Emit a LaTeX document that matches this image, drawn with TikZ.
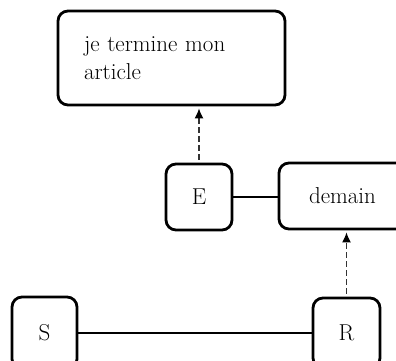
\documentclass[tikz,border=0pt]{standalone}
\usetikzlibrary{arrows.meta}
\begin{document}
\begin{tikzpicture}[x=1pt,y=-1pt,
  box/.style={draw=black,line width=2.8pt,rounded corners=10pt,fill=white,
    font=\fontsize{23}{28}\selectfont,inner sep=0pt},
  link/.style={line width=2pt},
  dasharrow/.style={line width=1.2pt,draw=black!80,dash pattern=on 6pt off 3pt,
    -{Latex[length=10pt,width=9pt,black]}, shorten >=2pt, shorten <=3pt}]
\useasboundingbox (0,0) rectangle (396,360);
\clip (0,0) rectangle (396,360);
\node[box,minimum width=227pt,minimum height=94pt,text width=175pt,align=left] (top) at (171.5,58) {je termine mon\\article};
\node[box,minimum width=66pt,minimum height=66pt] (E) at (199,197) {E};
\node[box,minimum width=127pt,minimum height=66pt] (D) at (342.5,196) {demain};
\node[box,minimum width=65pt,minimum height=72pt] (S) at (44.5,333) {S};
\node[box,minimum width=67pt,minimum height=70pt] (R) at (346.5,333) {R};
\draw[link] (E.east) -- (E.east -| D.west);
\draw[link] (S.east) -- (S.east -| R.west);
\draw[dasharrow] (E.north) -- (E.north |- top.south);
\draw[dasharrow] (R.north) -- (R.north |- D.south);
\end{tikzpicture}
\end{document}
